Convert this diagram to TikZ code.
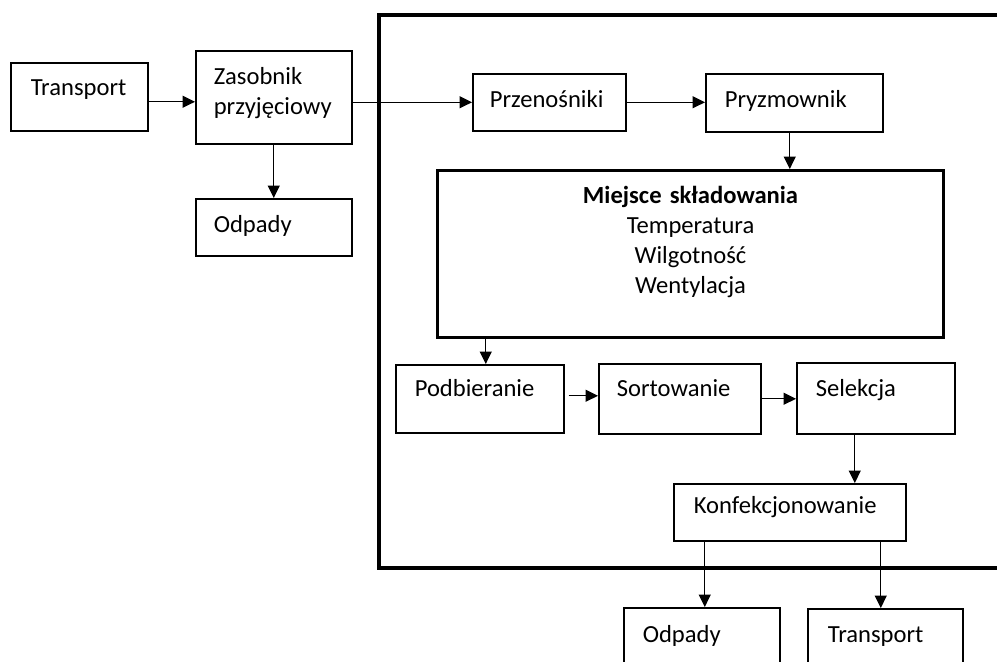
\documentclass[tikz,border=0pt]{standalone}
\usepackage{fontspec}
\setmainfont{Carlito}
\usetikzlibrary{arrows.meta}
\begin{document}
\begin{tikzpicture}[x=0.02cm, y=-0.02cm, >={Triangle[length=0.25cm,width=0.24cm]},
 font=\fontsize{14}{17}\selectfont,
 blok/.style={draw, line width=0.9pt, anchor=north west, align=left, inner ysep=0pt, inner xsep=0.36cm},
 strz/.style={->, line width=0.8pt}]
 \useasboundingbox (0,0) rectangle (997,662);
 \clip (0,0) rectangle (997,662);
 % ramka magazynu
 \draw[line width=2.8pt] (1050,15) -- (379,15) -- (379,568) -- (1050,568);
 % bloki
 \node[blok, inner xsep=0.4cm, text width=1.94cm, text height=0.66cm, text depth=0.7cm] (t1) at (10,62) {Transport};
 \node[blok, text width=2.4cm, text height=0.68cm, text depth=1.18cm] (zas) at (195,50) {Zasobnik\\przyjęciowy};
 \node[blok, text width=2.4cm, text height=0.68cm, text depth=0.46cm] (odp1) at (195,198) {Odpady};
 \node[blok, inner xsep=0.34cm, text width=2.38cm, text height=0.68cm, text depth=0.46cm] (przen) at (472,73) {Przenośniki};
 \node[blok, inner xsep=0.38cm, text width=2.78cm, text height=0.68cm, text depth=0.48cm] (pryzm) at (705,73) {Pryzmownik};
 \node[blok, align=center, line width=1.8pt, inner xsep=0.32cm, text width=9.48cm, text height=0.66cm, text depth=2.68cm] (miejsce) at (436,169)
  {\textbf{Miejsce składowania}\\Temperatura\\Wilgotność\\Wentylacja};
 \node[blok, inner xsep=0.38cm, text width=2.6cm, text height=0.64cm, text depth=0.72cm] (podb) at (395,364) {Podbieranie};
 \node[blok, text width=2.52cm, text height=0.66cm, text depth=0.74cm] (sort) at (598,363) {Sortowanie};
 \node[blok, inner xsep=0.38cm, text width=2.4cm, text height=0.68cm, text depth=0.74cm] (sel) at (796,362) {Selekcja};
 \node[blok, inner xsep=0.4cm, text width=3.84cm, text height=0.6cm, text depth=0.54cm] (konf) at (673,483) {Konfekcjonowanie};
 \node[blok, inner xsep=0.38cm, text width=2.36cm, text height=0.7cm, text depth=1.16cm] (odp2) at (623,607) {Odpady};
 \node[blok, inner xsep=0.4cm, text width=2.3cm, text height=0.68cm, text depth=1.16cm] (tr2) at (807,608) {Transport};
 % przeplyw
 \draw[strz] ([yshift=-0.1cm]t1.east) -- ([yshift=-0.1cm]t1.east -| zas.west);
 \draw[strz] (zas.south) -- (odp1.north);
 \draw[strz] (zas.east |- przen.west) -- (przen.west);
 \draw[strz] (przen.east) -- (przen.east -| pryzm.west);
 \draw[strz] ([xshift=-0.09cm]pryzm.south) -- ([xshift=-0.09cm]pryzm.south |- miejsce.north);
 \draw[strz] ([xshift=0.12cm]podb.north |- miejsce.south) -- ([xshift=0.12cm]podb.north);
 \draw[strz] ([xshift=0.08cm,yshift=0.06cm]podb.east) -- ([yshift=0.06cm]podb.east -| sort.west);
 \draw[strz] (sort.east) -- (sort.east -| sel.west);
 \draw[strz] ([xshift=-0.42cm]sel.south) -- ([xshift=-0.42cm]sel.south |- konf.north);
 \draw[strz] ([xshift=0.06cm]odp2.north |- konf.south) -- ([xshift=0.06cm]odp2.north);
 \draw[strz] ([xshift=-0.09cm]tr2.north |- konf.south) -- ([xshift=-0.09cm]tr2.north);
\end{tikzpicture}
\end{document}
